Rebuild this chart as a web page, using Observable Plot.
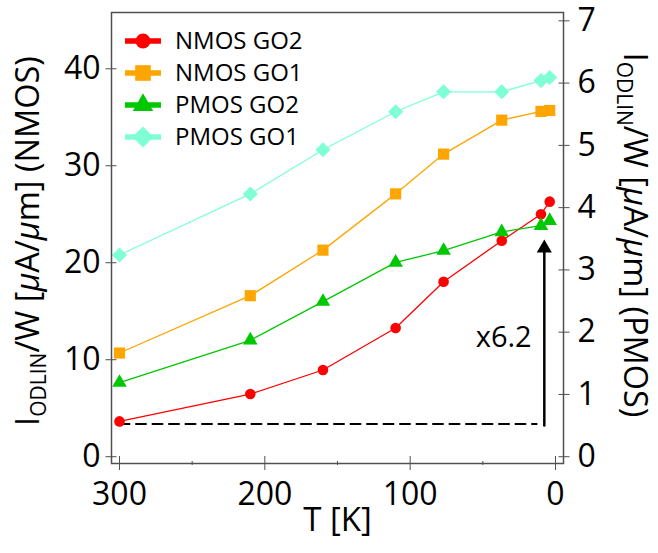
<!DOCTYPE html>
<html><head><meta charset="utf-8">
<script src="https://cdn.jsdelivr.net/npm/d3@7"></script>
<script src="https://cdn.jsdelivr.net/npm/@observablehq/plot@0.6"></script>
<style>
body{margin:0;background:#fff}
#chart{position:relative;width:658px;height:553px}
svg{overflow:visible}
</style>
</head><body><div id="chart"></div>
<script>
// ---- data ----
const temperatures = [300, 210, 160, 110, 77, 37, 10, 4];
const nmosGO2 = [3.64, 6.46, 8.94, 13.27, 18.04, 22.27, 25.0, 26.3];   // left axis (NMOS)
const nmosGO1 = [10.69, 16.6, 21.3, 27.1, 31.2, 34.7, 35.6, 35.7];     // left axis (NMOS)
const pmosGO2 = [1.19, 1.87, 2.49, 3.12, 3.31, 3.61, 3.71, 3.79];      // right axis (PMOS)
const pmosGO1 = [3.24, 4.22, 4.93, 5.54, 5.86, 5.86, 6.04, 6.09];      // right axis (PMOS)
const seriesNames = ["NMOS GO2", "NMOS GO1", "PMOS GO2", "PMOS GO1"];
const seriesColors = ["#ff0000", "#ffa500", "#00c800", "#7fffd4"];
const seriesSymbols = ["circle", "square", "triangle", "diamond2"];
const seriesRadius = [5.3, 6.3, 5.4, 6.8];
const xTicks = [300, 200, 100, 0];
const xMinorTicks = [250, 150, 50];
const leftTicks = [0, 10, 20, 30, 40];
const rightTicks = [0, 1, 2, 3, 4, 5, 6, 7];
const pmosScale = 6.42;          // one PMOS unit in NMOS-axis units
const baselineT = [300, 13];
const baselineLevel = 3.37;
const arrowT = 7.7, arrowFrom = 4.05, arrowTo = 22.4;
const ratioLabel = "x6.2", ratioT = 16.4, ratioLevel = 12.3;
const xTitle = "T [K]";

// ---- build table ----
const seriesValues = [nmosGO2, nmosGO1, pmosGO2.map(v => v * pmosScale), pmosGO1.map(v => v * pmosScale)];
const rows = [];
seriesNames.forEach((name, s) => temperatures.forEach((t, i) => rows.push({series: name, T: t, v: seriesValues[s][i]})));

const axisColor = "#505050";
const font = "'Open Sans', 'Noto Sans', sans-serif";

const seriesMarks = seriesNames.flatMap((name, s) => {
  const d = rows.filter(r => r.series === name);
  return [
    Plot.line(d, {x: "T", y: "v", stroke: seriesColors[s], strokeWidth: 1.3}),
    Plot.dot(d, {x: "T", y: "v", symbol: () => seriesSymbols[s], r: seriesRadius[s], fill: seriesColors[s], stroke: "none"})
  ];
});

const plot = Plot.plot({
  width: 658, height: 553,
  marginLeft: 111, marginRight: 95, marginTop: 12, marginBottom: 90,
  x: {domain: [305.5, -5.5]},
  y: {domain: [-0.7, 45.8]},
  symbol: {type: "identity"},
  style: {fontFamily: font, background: "white", color: "black", overflow: "visible"},
  marks: [
    Plot.line(baselineT.map(t => ({T: t, v: baselineLevel})), {x: "T", y: "v", stroke: "black", strokeWidth: 2, strokeDasharray: "10,6.5"}),
    ...seriesMarks,
    Plot.line([{T: arrowT, v: arrowFrom}, {T: arrowT, v: arrowTo}], {x: "T", y: "v", stroke: "black", strokeWidth: 2.5, dy: 8}),
    Plot.dot([{T: arrowT, v: arrowTo}], {x: "T", y: "v", symbol: "triangle", r: 5.6, fill: "black", stroke: "none", dy: 8.7}),
    Plot.text([ratioLabel], {x: () => ratioT, y: () => ratioLevel, textAnchor: "end", fontSize: 29, fill: "black"}),
    Plot.frame({stroke: axisColor, strokeWidth: 1.5}),
    Plot.axisX({ticks: xTicks, tickSize: 14, dy: -7, tickPadding: 12, fontSize: 32, stroke: axisColor, fill: "black", label: null, tickFormat: d => String(d)}),
    Plot.axisX({ticks: xMinorTicks, tickSize: 4, dy: -2, stroke: axisColor, label: null, tickFormat: () => ""}),
    Plot.axisY({ticks: leftTicks, tickSize: 11, dx: 5.5, tickPadding: 5.5, fontSize: 32, stroke: axisColor, fill: "black", label: null, tickFormat: d => String(d)}),
    Plot.axisY({anchor: "right", ticks: rightTicks.map(v => v * pmosScale), tickSize: 11, dx: -5.5, tickPadding: 8.5, fontSize: 32, stroke: axisColor, fill: "black", label: null, tickFormat: d => String(Math.round(d / pmosScale))}),
    Plot.text([xTitle], {frameAnchor: "bottom", dy: 67, fontSize: 33, fill: "black"})
  ]
});
document.getElementById("chart").appendChild(plot);

// ---- axis titles with subscripts ----
const svg = d3.select(plot);
function title(x, y, rot, suffix) {
  const t = svg.append("text").attr("transform", `translate(${x},${y}) rotate(${rot})`)
    .attr("text-anchor", "middle").attr("font-family", font).attr("font-size", 32.5).attr("fill", "black");
  t.append("tspan").text("I");
  t.append("tspan").attr("font-size", 21).attr("dy", 7).text("ODLIN");
  t.append("tspan").attr("dy", -7).text("/W [");
  t.append("tspan").attr("font-style", "italic").text("\u03bc");
  t.append("tspan").text("A/");
  t.append("tspan").attr("font-style", "italic").text("\u03bc");
  t.append("tspan").text("m] (" + suffix + ")");
}
title(39, 241, -90, "NMOS");
title(624, 235, 90, "PMOS");

// ---- legend ----
const lg = svg.append("g");
seriesNames.forEach((name, s) => {
  const y = 41 + s * 32;
  const g = lg.append("g").attr("transform", `translate(0,${y})`);
  g.append("line").attr("x1", 125).attr("x2", 161).attr("stroke", seriesColors[s]).attr("stroke-width", 5.5);
  const symType = {circle: d3.symbolCircle, square: d3.symbolSquare, triangle: d3.symbolTriangle, diamond2: d3.symbolDiamond2}[seriesSymbols[s]];
  const rr = seriesRadius[s] * 1.4;
  g.append("path").attr("transform", "translate(143,0)").attr("d", d3.symbol(symType, Math.PI * rr * rr)()).attr("fill", seriesColors[s]);
  g.append("text").attr("x", 175).attr("dy", "0.35em").attr("text-anchor", "start").attr("font-family", font).attr("font-size", 24).attr("fill", "black").text(name);
});
</script>
</body></html>
